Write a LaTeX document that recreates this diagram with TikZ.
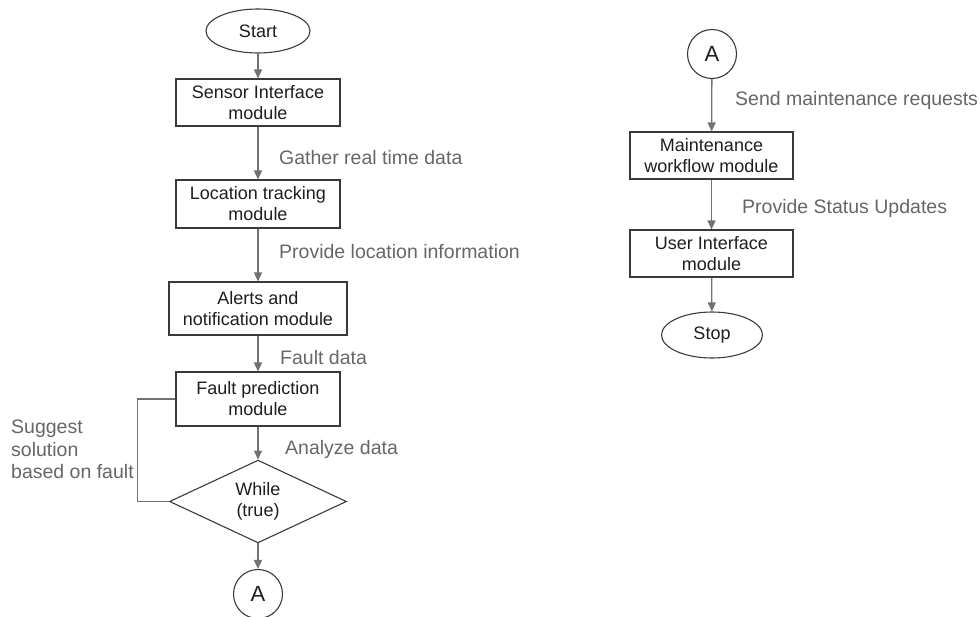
\documentclass[tikz,border=0pt]{standalone}
\usepackage{fontspec}
\setmainfont{Liberation Sans}
\usetikzlibrary{shapes.geometric,arrows.meta}
\definecolor{linegray}{HTML}{727272}
\definecolor{boxline}{HTML}{3A3A3A}
\definecolor{labelgray}{HTML}{666666}
\definecolor{boxtext}{HTML}{1E1E1E}
\tikzset{
  stepbox/.style={draw=boxline, line width=1.1pt, rectangle, inner sep=0pt, align=center,
    text=boxtext, font=\fontsize{18}{21}\selectfont},
  terminal/.style={draw=boxline, line width=1.1pt, ellipse, inner sep=0pt,
    text=boxtext, font=\fontsize{18}{21}\selectfont},
  connector/.style={draw=boxline, line width=1.1pt, circle, inner sep=0pt,
    minimum size=49pt, text=boxtext, font=\fontsize{22}{24}\selectfont},
  decision/.style={draw=boxline, line width=1.1pt, diamond, inner sep=0pt, align=center,
    text=boxtext, font=\fontsize{18}{21}\selectfont},
  flow/.style={draw=linegray, line width=1.3pt, -{Triangle[length=9pt,width=8pt]}},
  loopline/.style={draw=linegray, line width=1.3pt},
  lbl/.style={anchor=west, inner sep=0pt, text=labelgray, font=\fontsize{19.5}{22.5}\selectfont}
}
\begin{document}
\begin{tikzpicture}[x=1pt,y=-1pt]
\useasboundingbox (0,0) rectangle (980,616);

% left column
\node[terminal, minimum width=104pt, minimum height=44pt] (start) at (258,31) {Start};
\node[stepbox, minimum width=164pt, minimum height=47pt] (sensor) at (258,102.5) {Sensor Interface\\module};
\node[stepbox, minimum width=164pt, minimum height=48pt] (loc) at (258,204) {Location tracking\\module};
\node[stepbox, minimum width=178pt, minimum height=53pt] (alerts) at (258,308.5) {Alerts and\\notification module};
\node[stepbox, minimum width=164pt, minimum height=54pt] (fault) at (258,399) {Fault prediction\\module};
\node[decision, minimum width=177pt, minimum height=77pt] (loop) at (258,501.5) {While\\(true)};
\node[connector] (outA) at (258,594) {A};

\draw[flow] (start) -- (sensor);
\draw[flow] (sensor) -- (loc);
\draw[flow] (loc) -- (alerts);
\draw[flow] (alerts) -- (fault);
\draw[flow] (fault) -- (loop);
\draw[flow] (loop) -- (outA);
\draw[loopline] (fault.west) -- ++(-38,0) coordinate (bend) |- (loop.west);

\node[lbl] (l1) at (279,158) {Gather real time data};
\node[lbl] (l2) at (279,252) {Provide location information};
\node[lbl] (l3) at (280,358) {Fault data};
\node[lbl] (l4) at (285,449) {Analyze data};
\node[lbl, anchor=north west, align=left] (l5) at (11,420) {Suggest\\solution\\based on fault};

% right column
\node[connector] (inA) at (712,54) {A};
\node[stepbox, minimum width=163pt, minimum height=47pt] (maint) at (711.5,155.5) {Maintenance\\workflow module};
\node[stepbox, minimum width=163pt, minimum height=47pt] (ui) at (711.5,253.5) {User Interface\\module};
\node[terminal, minimum width=101pt, minimum height=46pt] (stop) at (712,335) {Stop};

\draw[flow] (inA) -- (maint);
\draw[flow] (maint) -- (ui);
\draw[flow] (ui) -- (stop);

\node[lbl] (r1) at (735,100) {Send maintenance requests};
\node[lbl] (r2) at (742,208) {Provide Status Updates};
\end{tikzpicture}
\end{document}
